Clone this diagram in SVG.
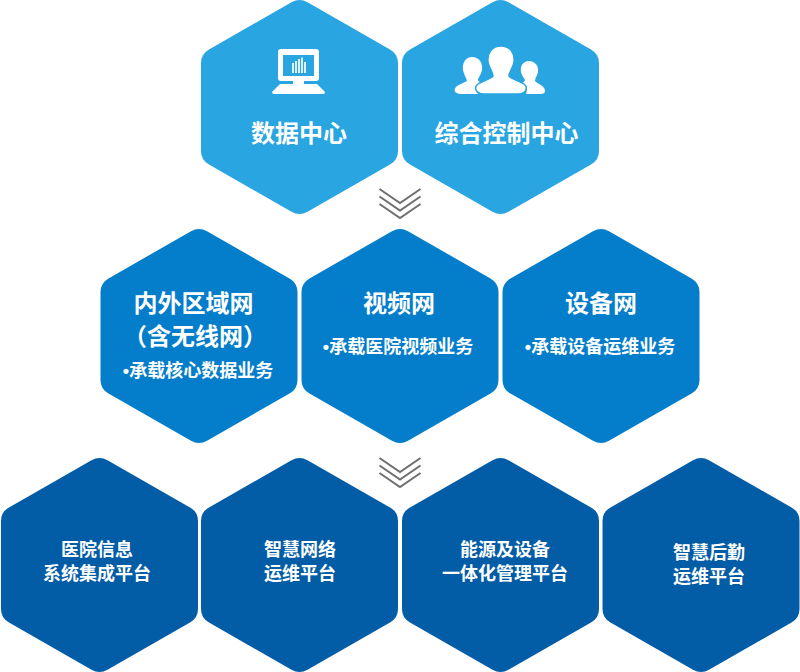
<svg xmlns="http://www.w3.org/2000/svg" xmlns:xlink="http://www.w3.org/1999/xlink" width="800" height="672" viewBox="0 0 800 672">
<style>
text{font-family:"Noto Sans CJK SC","Liberation Sans",sans-serif;font-weight:700;fill:#fff;text-anchor:middle}
.t24{font-size:24px}.t18{font-size:18px}
.dot{font-family:"Liberation Sans",sans-serif}
.a{fill:#29a5e1}.b{fill:#047dcb}.c{fill:#035ca6}
.chev{fill:none;stroke:#6e6e6e;stroke-width:2}
</style>
<defs>
<path id="hex" d="M-8-104.700Q0-109.300 8-104.700L90.500-57.600Q98.500-53 98.500-44L98.500 44Q98.500 53 90.500 57.600L8 104.700Q0 109.300-8 104.700L-90.500 57.600Q-98.500 53-98.500 44L-98.500-44Q-98.500-53-90.500-57.600Z"/>
<g id="chevrons" class="chev"><path d="M379.500 0L400 14L420.500 0"/><path d="M379.500 7.500L400 21.500L420.500 7.500"/><path d="M379.500 15L400 29L420.500 15"/></g>
</defs>
<g id="connectors">
<use xlink:href="#chevrons" href="#chevrons" y="189"/>
<use xlink:href="#chevrons" href="#chevrons" y="458"/>
</g>
<g id="node-data"><use href="#hex" class="a" x="299.500" y="107"/>
<path fill="#fff" fill-rule="evenodd" d="M281 49H316Q319 49 319 52V78Q319 81 316 81H304V84H317L325 92Q325 94 323 94H274Q272 94 272 92L280 84H293V81H281Q278 81 278 78V52Q278 49 281 49ZM283 55V76H314V55Z"/>
<path fill="#fff" opacity=".85" d="M292 63h2v10h-2zM295 61h2v12h-2zM298 59h2v14h-2zM301 57.500h2v15.500h-2zM304 62h2v11h-2z"/>
<text class="t24" x="299" y="142">数据中心</text></g>
<g id="node-control"><use href="#hex" class="a" x="500.500" y="107"/>
<path fill="#fff" d="M472 57C480 57 483 64 482 70C481 75 478 78 478 80C478 81 481 83 483 84C478 86 476 90 478 94H461C455 94 453 90 456 87C459 84 464 83 467 81C467 79 464 75 463 70C462 64 465 57 472 57Z"/>
<path fill="#fff" d="M529 61C535 61 539 66 538 72C537 76 535 78 535 81C538 84 542 85 544 88C546 91 545 94 541 94H526C528 90 526 86 521 84C523 83 525 81 525 80C524 78 522 76 521 72C520 66 523 61 529 61Z"/>
<path fill="#fff" stroke="#29a5e1" stroke-width="1.500" d="M501 46C510 46 515 53 514 62C513 68 509 72 509 76C511 79 520 81 524 84C528 87 527 94 518 94H484C475 94 474 87 478 84C482 81 491 79 493 76C493 72 489 68 488 62C487 53 492 46 501 46Z"/>
<text class="t24" x="506.500" y="142">综合控制中心</text></g>
<g id="node-lan"><use href="#hex" class="b" x="199" y="336"/>
<text class="t24" x="193.500" y="312">内外区域网</text>
<text class="t24" x="195" y="345">（含无线网）</text>
<text class="t18" x="198" y="377"><tspan class="dot">•</tspan>承载核心数据业务</text></g>
<g id="node-video"><use href="#hex" class="b" x="400" y="336"/>
<text class="t24" x="399" y="312">视频网</text>
<text class="t18" x="398" y="353"><tspan class="dot">•</tspan>承载医院视频业务</text></g>
<g id="node-device"><use href="#hex" class="b" x="601" y="336"/>
<text class="t24" x="601" y="312">设备网</text>
<text class="t18" x="600" y="353"><tspan class="dot">•</tspan>承载设备运维业务</text></g>
<g id="node-his"><use href="#hex" class="c" x="99.500" y="565"/>
<text class="t18" x="97" y="556">医院信息</text><text class="t18" x="97" y="580">系统集成平台</text></g>
<g id="node-netops"><use href="#hex" class="c" x="299.500" y="565"/>
<text class="t18" x="300" y="556">智慧网络</text><text class="t18" x="300" y="580">运维平台</text></g>
<g id="node-energy"><use href="#hex" class="c" x="500.500" y="565"/>
<text class="t18" x="505" y="556">能源及设备</text><text class="t18" x="505" y="580">一体化管理平台</text></g>
<g id="node-logistics"><use href="#hex" class="c" x="701" y="565"/>
<text class="t18" x="709" y="559">智慧后勤</text><text class="t18" x="709" y="583">运维平台</text></g>
</svg>
